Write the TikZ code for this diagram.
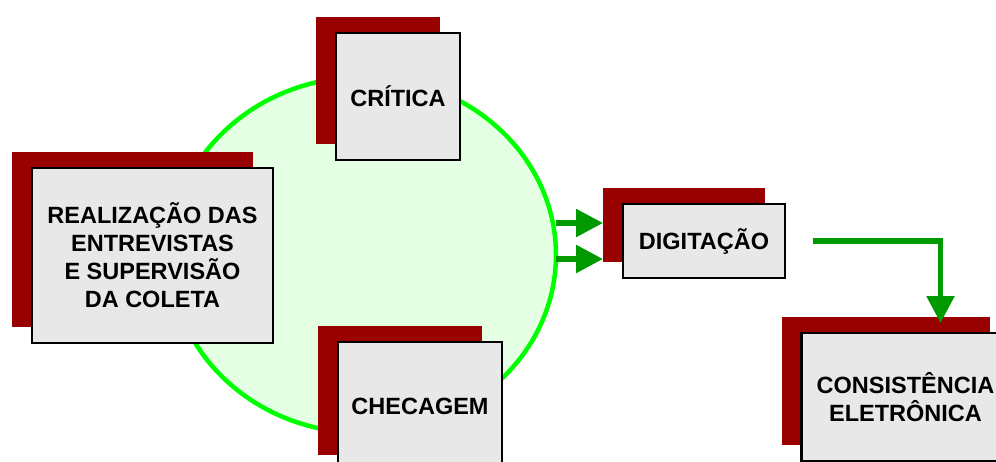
\documentclass[tikz,border=0pt]{standalone}
\usepackage{fontspec}
\setmainfont{Liberation Sans}
\usetikzlibrary{shapes.geometric,shadows,arrows.meta,calc}

\definecolor{verdeclaro}{HTML}{E5FFE5}
\definecolor{verdelinha}{HTML}{00FF00}
\definecolor{verdeseta}{HTML}{009900}
\definecolor{vermelho}{HTML}{990000}
\definecolor{cinza}{HTML}{E8E8E8}

\tikzset{
  caixa/.style={draw=black, line width=2.5pt, fill=cinza, inner sep=0pt, outer sep=0pt, align=center,
    font=\fontsize{23.5}{28}\selectfont\bfseries,
    general shadow={shadow xshift=-20pt, shadow yshift=16pt, fill=vermelho}},
  seta/.style={verdeseta, line width=5.5pt, -{Triangle[width=27pt,length=27pt]}}
}

\begin{document}
\begin{tikzpicture}[x=1pt,y=-1pt]

    \useasboundingbox (0,0) rectangle (996,461);

    % Draw the green cycle
    \node[ellipse, draw=verdelinha, line width=4.5pt, fill=verdeclaro, inner sep=0pt, outer sep=0pt,
      minimum width=386pt, minimum height=356pt] (ciclo) at (363,255) {};

    % Draw the boxes of the cycle
    \node[caixa, minimum width=241pt, minimum height=175pt] (coleta) at (152.5,255.5)
      {REALIZAÇÃO DAS\\ENTREVISTAS\\E SUPERVISÃO\\DA COLETA};
    \node[caixa, minimum width=124pt, minimum height=127pt] (critica) at (398,96.5) {CRÍTICA};
    \node[caixa, minimum width=164pt, minimum height=129pt] (checagem) at (420,406.5) {CHECAGEM};

    % Draw the boxes after the cycle
    \node[caixa, minimum width=162pt, minimum height=74pt] (dig) at (704,241) {DIGITAÇÃO};
    \node[caixa, minimum width=208pt, minimum height=128pt] (cons) at (905.5,397)
      {CONSISTÊNCIA\\ELETRÔNICA};

    % Arrow ends at the red shadow of DIGITAÇÃO
    \coordinate (ent1) at ([xshift=-20pt,yshift=18pt]dig.west);
    \coordinate (ent2) at ([xshift=-20pt,yshift=-18pt]dig.west);

    % Draw the arrows
    \draw[seta] (ciclo.east |- ent1) -- (ent1);
    \draw[seta] (ciclo.east |- ent2) -- (ent2);
    \draw[seta] ([xshift=28pt]dig.east) -| ([xshift=35pt,yshift=10pt]cons.north);

\end{tikzpicture}
\end{document}
